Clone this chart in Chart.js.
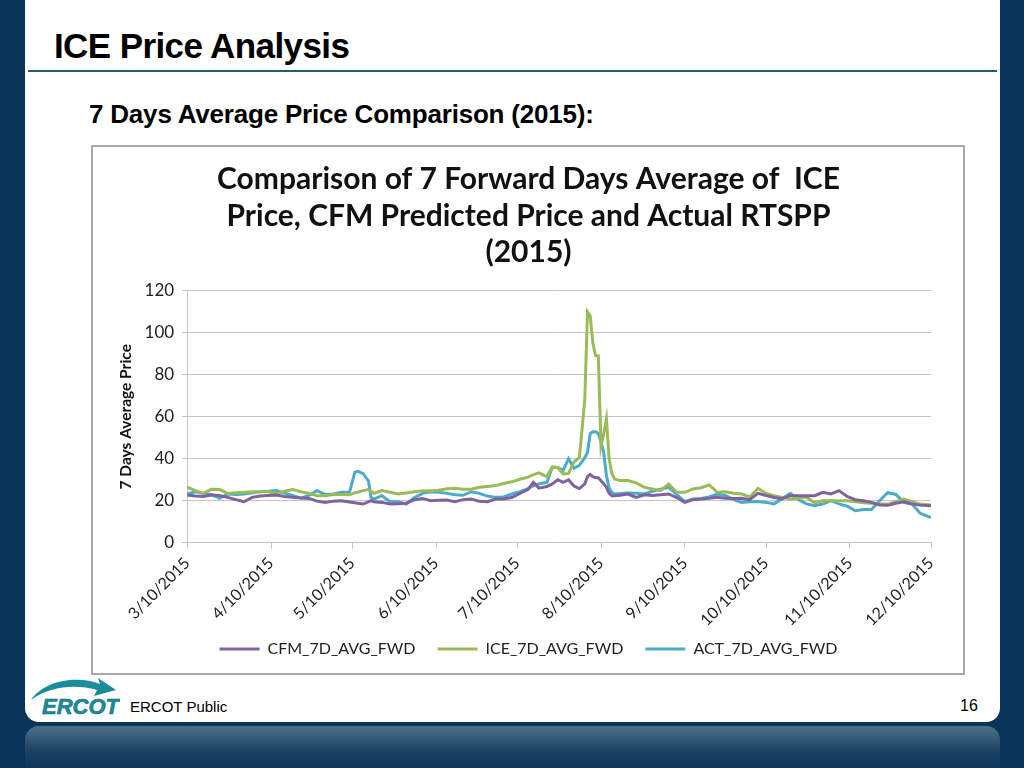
<!DOCTYPE html>
<html>
<head>
<meta charset="utf-8">
<script src="https://cdn.jsdelivr.net/npm/chart.js@4.4.0/dist/chart.umd.min.js"></script>
<style>
  html, body { margin: 0; padding: 0; }
  body { width: 1024px; height: 768px; background: #0b3558; position: relative; overflow: hidden; font-family: "Liberation Sans", Arial, sans-serif; }
  .panel { position: absolute; left: 25px; top: 0; width: 975px; height: 722px; background: #fff; border-radius: 0 0 14px 14px; }
  .band { position: absolute; left: 25px; top: 726px; width: 975px; height: 42px; border-radius: 14px 14px 0 0;
          background: linear-gradient(#52718a, #1d4566 55%, #0f3658); }
  .title { position: absolute; left: 54px; top: 26px; font-size: 35px; font-weight: bold; color: #000; letter-spacing: -0.6px; }
  .rule { position: absolute; left: 28px; top: 70px; width: 969px; height: 2px; background: #235a78; }
  .sub { position: absolute; left: 89px; top: 99px; font-size: 26px; font-weight: bold; color: #000; letter-spacing: -0.2px; }
  .box { position: absolute; left: 91px; top: 145px; width: 870px; height: 526px; border: 2px solid #a9a9a9; background: #fff; }
  .foot { position: absolute; left: 130px; top: 698px; font-size: 15px; color: #000; }
  .page { position: absolute; left: 960px; top: 697px; font-size: 16px; color: #000; }
  .logo { position: absolute; left: 28px; top: 676px; }
</style>
</head>
<body>
<div class="panel"></div>
<div class="band"></div>
<div class="title">ICE Price Analysis</div>
<div class="rule"></div>
<div class="sub">7 Days Average Price Comparison (2015):</div>
<div class="box"><canvas id="chart-ice" width="870" height="526"></canvas></div>
<svg class="logo" width="92" height="42" viewBox="0 0 92 42">
  <path d="M3 24 C 16 4, 50 -1, 72 8 L 70 2 L 88 14 L 66 20 L 69 14 C 48 8, 22 10, 3 24 Z" fill="#1a8c9c"/>
  <text x="14" y="38" font-family="Liberation Sans" font-weight="bold" font-style="italic" font-size="22" fill="#1a8c9c" stroke="#0e6a78" stroke-width="0.6">ERCOT</text>
</svg>
<div class="foot">ERCOT Public</div>
<div class="page">16</div>

<script>
const days = [0, 3, 6, 9, 12, 15, 18, 21, 24, 27, 30, 33, 36, 39, 42, 45, 48, 51, 54, 57,
  60, 62, 63, 65, 67, 68, 69, 72, 75, 78, 81, 84, 87, 90, 93, 96, 99, 102, 105, 108,
  111, 114, 117, 120, 123, 126, 128, 130, 133, 135, 137, 139, 141, 143, 145, 147, 148, 149, 150, 151,
  152, 153, 154, 155, 156, 157, 158, 160, 163, 166, 169, 172, 175, 178, 181, 184, 187, 190, 193, 196,
  199, 202, 205, 208, 211, 214, 217, 220, 223, 226, 229, 232, 235, 238, 241, 244, 247, 250, 253, 256,
  259, 262, 265, 268, 271, 275];

const cfmValues = [22.7, 22.3, 22.0, 22.7, 22.5, 21.6, 20.5, 19.5, 21.6, 22.2, 22.5, 22.7, 22.0, 21.6, 21.3, 21.1, 19.8, 19.2, 19.8, 20.0,
  19.4, 19.0, 18.8, 18.4, 19.5, 20.0, 19.5, 19.2, 18.4, 18.6, 18.8, 20.5, 21.1, 20.0, 20.2, 20.3, 19.5, 20.5, 20.8, 19.7,
  19.5, 20.8, 20.8, 21.5, 23.5, 25.3, 28.8, 26.0, 26.8, 28.0, 30.0, 28.8, 30.0, 27.0, 25.8, 28.0, 31.5, 32.5, 31.5, 31.0,
  31.0, 29.5, 28.0, 26.4, 23.5, 22.4, 22.4, 22.6, 23.2, 21.6, 22.8, 22.5, 22.8, 23.2, 21.5, 19.2, 20.5, 20.8, 21.2, 21.6,
  21.2, 21.0, 21.2, 20.5, 23.5, 22.5, 21.5, 21.0, 22.5, 22.4, 22.4, 22.4, 24.0, 23.2, 24.8, 22.0, 20.5, 20.0, 19.2, 18.0,
  17.8, 18.8, 19.5, 18.4, 17.9, 17.6];

const iceValues = [26.5, 24.8, 23.5, 25.5, 25.3, 23.5, 23.8, 24.0, 24.3, 24.3, 24.3, 23.4, 24.5, 25.3, 24.3, 23.5, 22.4, 22.4, 23.0, 23.0,
  22.8, 23.8, 24.0, 24.8, 25.3, 24.5, 23.5, 24.8, 24.0, 23.2, 23.7, 24.3, 24.8, 24.8, 25.0, 25.7, 25.9, 25.5, 25.5, 26.4,
  26.8, 27.2, 28.2, 29.0, 30.2, 31.2, 32.4, 33.3, 31.5, 36.0, 35.8, 32.8, 33.0, 38.5, 40.5, 68.0, 110.0, 108.0, 95.0, 89.0,
  89.0, 46.0, 52.0, 59.0, 40.0, 33.0, 30.4, 29.6, 29.6, 28.5, 26.4, 25.6, 24.8, 28.0, 24.0, 24.0, 25.6, 26.2, 27.5, 24.0,
  24.3, 23.6, 23.2, 21.8, 25.9, 23.5, 22.4, 21.6, 20.8, 21.2, 21.6, 19.0, 20.0, 20.0, 20.0, 20.0, 19.5, 19.0, 18.8, 18.5,
  18.4, 19.5, 20.8, 19.5, 18.4, 17.9];

const actValues = [23.2, 24.3, 23.5, 23.0, 21.1, 23.2, 23.0, 23.2, 23.8, 24.3, 24.5, 24.8, 23.6, 22.5, 21.2, 22.5, 24.8, 23.0, 23.2, 24.0,
  24.0, 33.6, 34.0, 33.0, 29.5, 21.5, 20.8, 22.4, 19.5, 19.5, 18.4, 21.5, 23.5, 24.3, 24.0, 23.5, 22.8, 22.6, 24.3, 23.5,
  22.2, 21.6, 21.8, 23.2, 24.3, 25.8, 27.2, 28.0, 28.8, 36.0, 35.8, 34.4, 40.0, 35.5, 36.8, 40.5, 43.0, 52.0, 52.8, 52.8,
  52.0, 48.0, 43.0, 32.0, 26.0, 24.0, 23.2, 23.5, 23.7, 23.5, 23.2, 24.5, 25.5, 26.4, 23.0, 19.5, 20.8, 21.1, 21.8, 23.2,
  22.5, 20.5, 19.2, 19.5, 19.6, 19.2, 18.5, 21.0, 23.5, 20.5, 18.5, 17.6, 18.4, 20.0, 18.5, 17.4, 15.2, 15.8, 15.8, 20.0,
  23.8, 23.0, 19.2, 18.4, 14.0, 12.0];

// x axis ticks: the 10th of each month
const tickDays = [0, 31, 61, 92, 122, 153, 184, 214, 245, 275];
const tickLabels = ['3/10/2015', '4/10/2015', '5/10/2015', '6/10/2015', '7/10/2015',
  '8/10/2015', '9/10/2015', '10/10/2015', '11/10/2015', '12/10/2015'];

const yTicks = [0, 20, 40, 60, 80, 100, 120];

const colors = {
  purple: '#7f62a1',
  green: '#9bbb59',
  cyan: '#4aacc6',
  grid: '#c4c4c4',
  text: '#222',
};

const FONT = 'Lato, "Open Sans", sans-serif';

function lineSet(label, values, color) {
  return {
    label,
    data: values,
    borderColor: color,
    backgroundColor: color,
    borderWidth: 3,
    pointRadius: 0,
    tension: 0,
    fill: false,
  };
}

// default legend items, with extra room after all but the last one
function legendItems(chart) {
  const items = Chart.defaults.plugins.legend.labels.generateLabels(chart);
  return items.map((item, i) => i < items.length - 1 ? { ...item, text: item.text + '\u2002\u2002' } : item);
}

const ctx = document.getElementById('chart-ice');
new Chart(ctx, {
  type: 'line',
  data: {
    labels: days,
    datasets: [
      lineSet('CFM_7D_AVG_FWD', cfmValues, colors.purple),
      lineSet('ICE_7D_AVG_FWD', iceValues, colors.green),
      lineSet('ACT_7D_AVG_FWD', actValues, colors.cyan),
    ],
  },
  options: {
    responsive: false,
    animation: false,
    layout: { padding: { left: 14, right: 13, top: 0, bottom: 6 } },
    plugins: {
      title: {
        display: true,
        text: ['Comparison of 7 Forward Days Average of  ICE', 'Price, CFM Predicted Price and Actual RTSPP', '(2015)'],
        font: { family: FONT, size: 30, weight: 'bold', lineHeight: 1.22 },
        color: '#111',
        padding: { top: 14, bottom: 20 },
      },
      legend: {
        position: 'bottom',
        labels: {
          usePointStyle: true,
          pointStyle: 'line',
          pointStyleWidth: 40,
          padding: 6,
          color: colors.text,
          font: { family: FONT, size: 16 },
          generateLabels: legendItems,
        },
      },
      tooltip: { enabled: false },
    },
    scales: {
      x: {
        type: 'linear',
        min: 0,
        max: 275,
        afterBuildTicks: axis => { axis.ticks = tickDays.map(v => ({ value: v })); },
        grid: { drawOnChartArea: false, color: colors.grid, tickLength: 6 },
        border: { color: colors.grid },
        ticks: {
          minRotation: 45,
          maxRotation: 45,
          autoSkip: false,
          padding: 5,
          color: colors.text,
          font: { family: FONT, size: 16 },
          callback: v => tickLabels[tickDays.indexOf(v)],
        },
      },
      y: {
        min: 0,
        max: 120,
        afterBuildTicks: axis => { axis.ticks = yTicks.map(v => ({ value: v })); },
        grid: { color: colors.grid, tickLength: 5 },
        border: { color: colors.grid },
        ticks: { padding: 8, color: colors.text, font: { family: FONT, size: 17 } },
        title: {
          display: true,
          text: '7 Days Average Price',
          color: '#111',
          font: { family: FONT, size: 15.5, weight: 'bold' },
          padding: { top: 10, bottom: 1 },
        },
      },
      // empty right-hand box so the title and legend centre on the frame
      yRight: {
        position: 'right',
        display: true,
        grid: { display: false },
        border: { display: false },
        ticks: { display: false },
        afterFit: axis => { axis.width = 19; },
      },
    },
  },
});
</script>
</body>
</html>
